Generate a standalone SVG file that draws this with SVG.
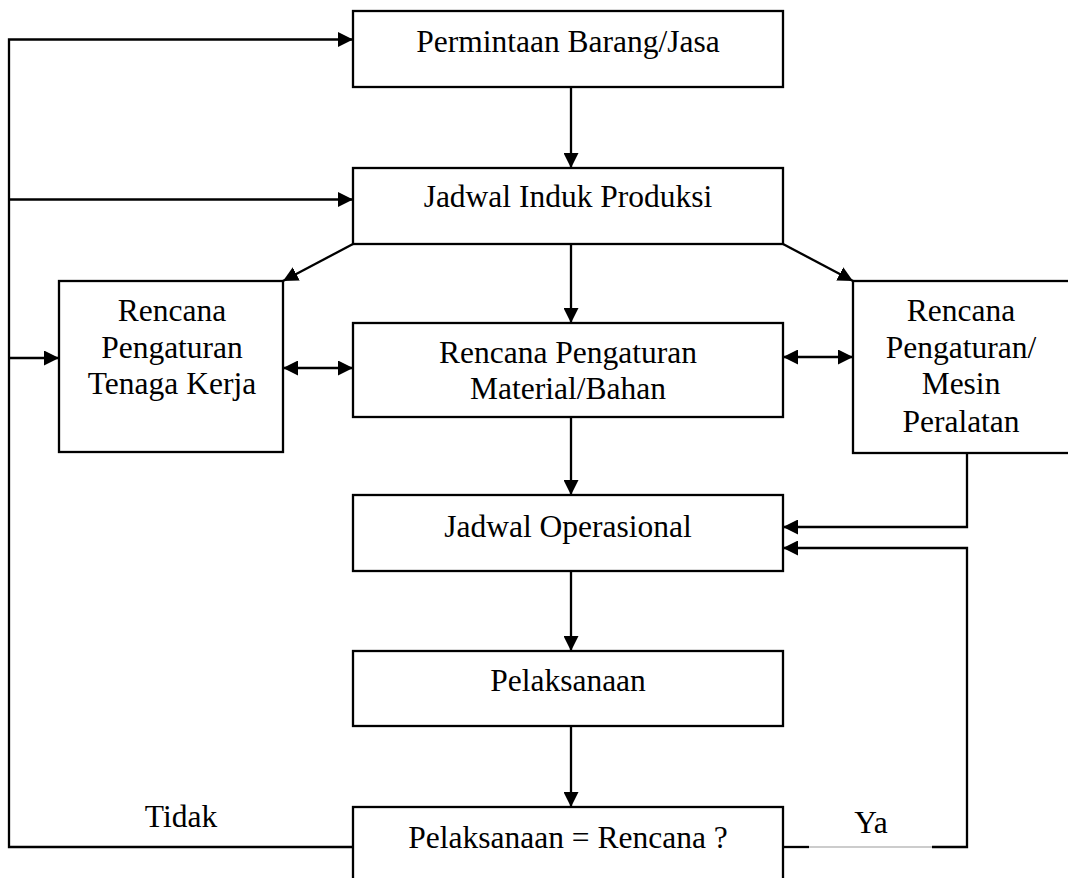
<svg xmlns="http://www.w3.org/2000/svg" width="1068" height="878" viewBox="0 0 1068 878">
<style>
.box{fill:#fff;stroke:#000;stroke-width:2.3}
.t{font-family:"Liberation Serif","Times New Roman",serif;font-size:31.5px;fill:#000;text-anchor:middle}
.c{fill:none;stroke:#000;stroke-width:2.3}
</style>
<defs>
<marker id="ah" markerUnits="userSpaceOnUse" markerWidth="16" markerHeight="15" refX="15" refY="7.5" orient="auto">
<path d="M0,0 L15,7.5 L0,15 z" fill="#000"/>
</marker>
<marker id="as" markerUnits="userSpaceOnUse" markerWidth="16" markerHeight="15" refX="0" refY="7.5" orient="auto">
<path d="M15,0 L0,7.5 L15,15 z" fill="#000"/>
</marker>
</defs>
<rect width="1068" height="878" fill="#fff"/>
<g id="n1"><rect class="box" x="353" y="11" width="430" height="76"/><text class="t" x="568" y="52">Permintaan Barang/Jasa</text></g>
<g id="n2"><rect class="box" x="353" y="168" width="430" height="76"/><text class="t" x="568" y="207">Jadwal Induk Produksi</text></g>
<g id="n3"><rect class="box" x="59" y="281" width="224" height="171"/><text class="t" x="172" y="321">Rencana</text><text class="t" x="172" y="358">Pengaturan</text><text class="t" x="172" y="394">Tenaga Kerja</text></g>
<g id="n4"><rect class="box" x="353" y="323" width="430" height="94"/><text class="t" x="568" y="363">Rencana Pengaturan</text><text class="t" x="568" y="399">Material/Bahan</text></g>
<g id="n5"><rect class="box" x="853" y="281" width="230" height="172"/><text class="t" x="961" y="321">Rencana</text><text class="t" x="961" y="358">Pengaturan/</text><text class="t" x="961" y="394">Mesin</text><text class="t" x="961" y="432">Peralatan</text></g>
<g id="n6"><rect class="box" x="353" y="495" width="430" height="76"/><text class="t" x="568" y="537">Jadwal Operasional</text></g>
<g id="n7"><rect class="box" x="353" y="651" width="430" height="75"/><text class="t" x="568" y="691">Pelaksanaan</text></g>
<g id="n8"><rect class="box" x="353" y="807" width="430" height="100"/><text class="t" x="568" y="848">Pelaksanaan = Rencana ?</text></g>
<g id="connectors">
<line class="c" x1="571" y1="87" x2="571" y2="168" marker-end="url(#ah)"/>
<line class="c" x1="571" y1="244" x2="571" y2="323" marker-end="url(#ah)"/>
<line class="c" x1="353" y1="244" x2="283" y2="281" marker-end="url(#ah)"/>
<line class="c" x1="783" y1="244" x2="853" y2="281" marker-end="url(#ah)"/>
<line class="c" x1="283" y1="368" x2="353" y2="368" marker-start="url(#as)" marker-end="url(#ah)"/>
<line class="c" x1="783" y1="357" x2="853" y2="357" marker-start="url(#as)" marker-end="url(#ah)"/>
<line class="c" x1="571" y1="417" x2="571" y2="495" marker-end="url(#ah)"/>
<line class="c" x1="571" y1="571" x2="571" y2="651" marker-end="url(#ah)"/>
<line class="c" x1="571" y1="726" x2="571" y2="807" marker-end="url(#ah)"/>
<polyline class="c" points="967,453 967,527 783,527" marker-end="url(#ah)"/>
<polyline class="c" points="932,847 967,847 967,548 783,548" marker-end="url(#ah)"/>
<line class="c" x1="783" y1="847" x2="809" y2="847"/>
<line x1="809" y1="847" x2="932" y2="847" stroke="#999" stroke-width="1"/>
<polyline class="c" points="353,847 9,847 9,39.5 353,39.5" marker-end="url(#ah)"/>
<line class="c" x1="9" y1="199.5" x2="353" y2="199.5" marker-end="url(#ah)"/>
<line class="c" x1="9" y1="358" x2="59" y2="358" marker-end="url(#ah)"/>
<text class="t" x="181" y="827">Tidak</text>
<text class="t" x="871" y="833">Ya</text>
</g>
</svg>
